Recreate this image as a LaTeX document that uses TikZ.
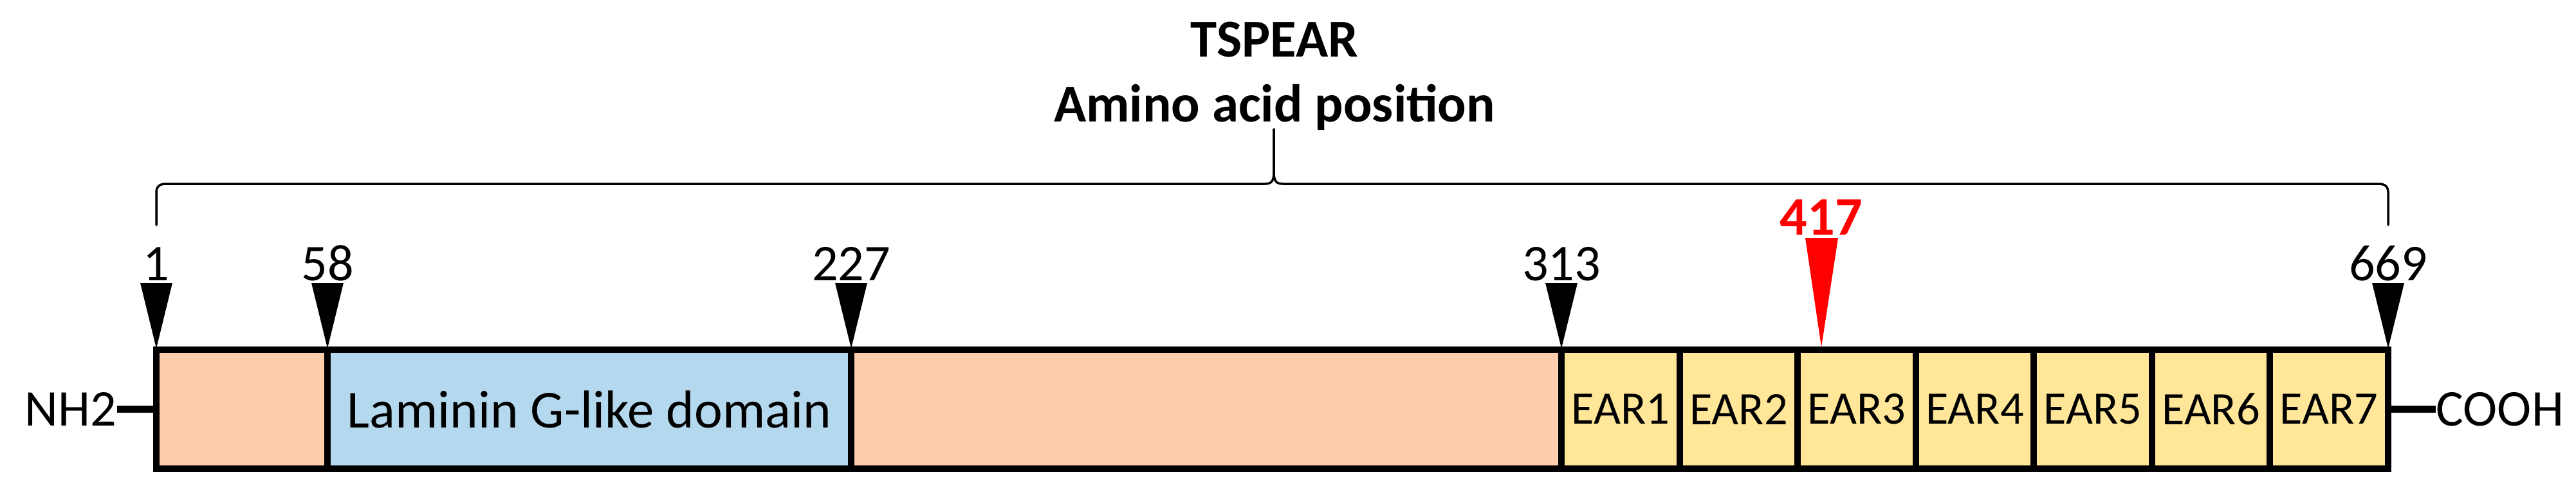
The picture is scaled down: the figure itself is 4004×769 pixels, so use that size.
\documentclass[tikz,border=0pt]{standalone}
\usepackage{fontspec}
\setmainfont{Carlito}
\usetikzlibrary{positioning}
\definecolor{peach}{RGB}{253,205,172}
\definecolor{lamblue}{RGB}{180,216,238}
\definecolor{earyellow}{RGB}{255,230,153}
\tikzset{
  seg/.style={rectangle,draw=black,line width=0.1cm,minimum height=1.85cm,inner sep=0pt,outer sep=0pt,font=\fontsize{23.6}{28}\selectfont},
  earbox/.style={seg,fill=earyellow,minimum width=1.8357cm,font=\fontsize{20.6}{25}\selectfont},
  num/.style={anchor=base,inner sep=0pt,font=\fontsize{22.8}{27}\selectfont},
  term/.style={inner sep=0pt,font=\fontsize{22.8}{27}\selectfont},
  stub/.style={line width=0.11cm},
  bracel/.style={line width=0.035cm,line cap=round}
}
\begin{document}
\begin{tikzpicture}[x=0.01cm,y=-0.01cm]
\useasboundingbox (0,0) rectangle (4004,769);
\draw (1981,88)node[num,font=\fontsize{23.6}{28}\selectfont\bfseries](title){TSPEAR};
\draw (1981,189)node[num,font=\fontsize{23.6}{28}\selectfont\bfseries](subtitle){Amino acid position};
\draw[bracel](243,350)--(243,300) .. controls (243,290) and (248,286) .. (258,286)--(1966,286) .. controls (1976,286) and (1980,282) .. (1980,268)--(1980,201);
\draw[bracel](1980,201)--(1980,268) .. controls (1980,282) and (1984,286) .. (1994,286)--(3697,286) .. controls (3707,286) and (3712,290) .. (3712,300)--(3712,350);

\draw (376,636.5)node[seg,fill=peach,minimum width=2.66cm](s1){};
\draw (916,636.5)node[seg,fill=lamblue,minimum width=8.14cm](lam){Laminin G-like domain};
\draw (1875,636.5)node[seg,fill=peach,minimum width=11.04cm](s3){};
\foreach \i in {1,...,7}
  \draw ({2427+(\i-0.5)*183.57},636.5)node[earbox](ear\i){EAR\i};

\draw (182,636.5)node[term,anchor=east](nh2){NH2};
\draw (3786,636.5)node[term,anchor=west](cooh){COOH};
\draw[stub](nh2)--(s1);
\draw[stub](ear7)--(cooh);

\foreach \x/\n in {243/1,509/58,1323/227,2427/313,3712/669}{
  \draw (\x,436)node[num](p\n){\n};
  \fill (\x-25,440)--(\x+25,440)--(\x,542)--cycle;
}
\draw (2831,365)node[num,red,font=\fontsize{24}{28}\selectfont\bfseries](p417){417};
\fill[red](2806,370)--(2857,370)--(2831,540)--cycle;
\end{tikzpicture}
\end{document}
